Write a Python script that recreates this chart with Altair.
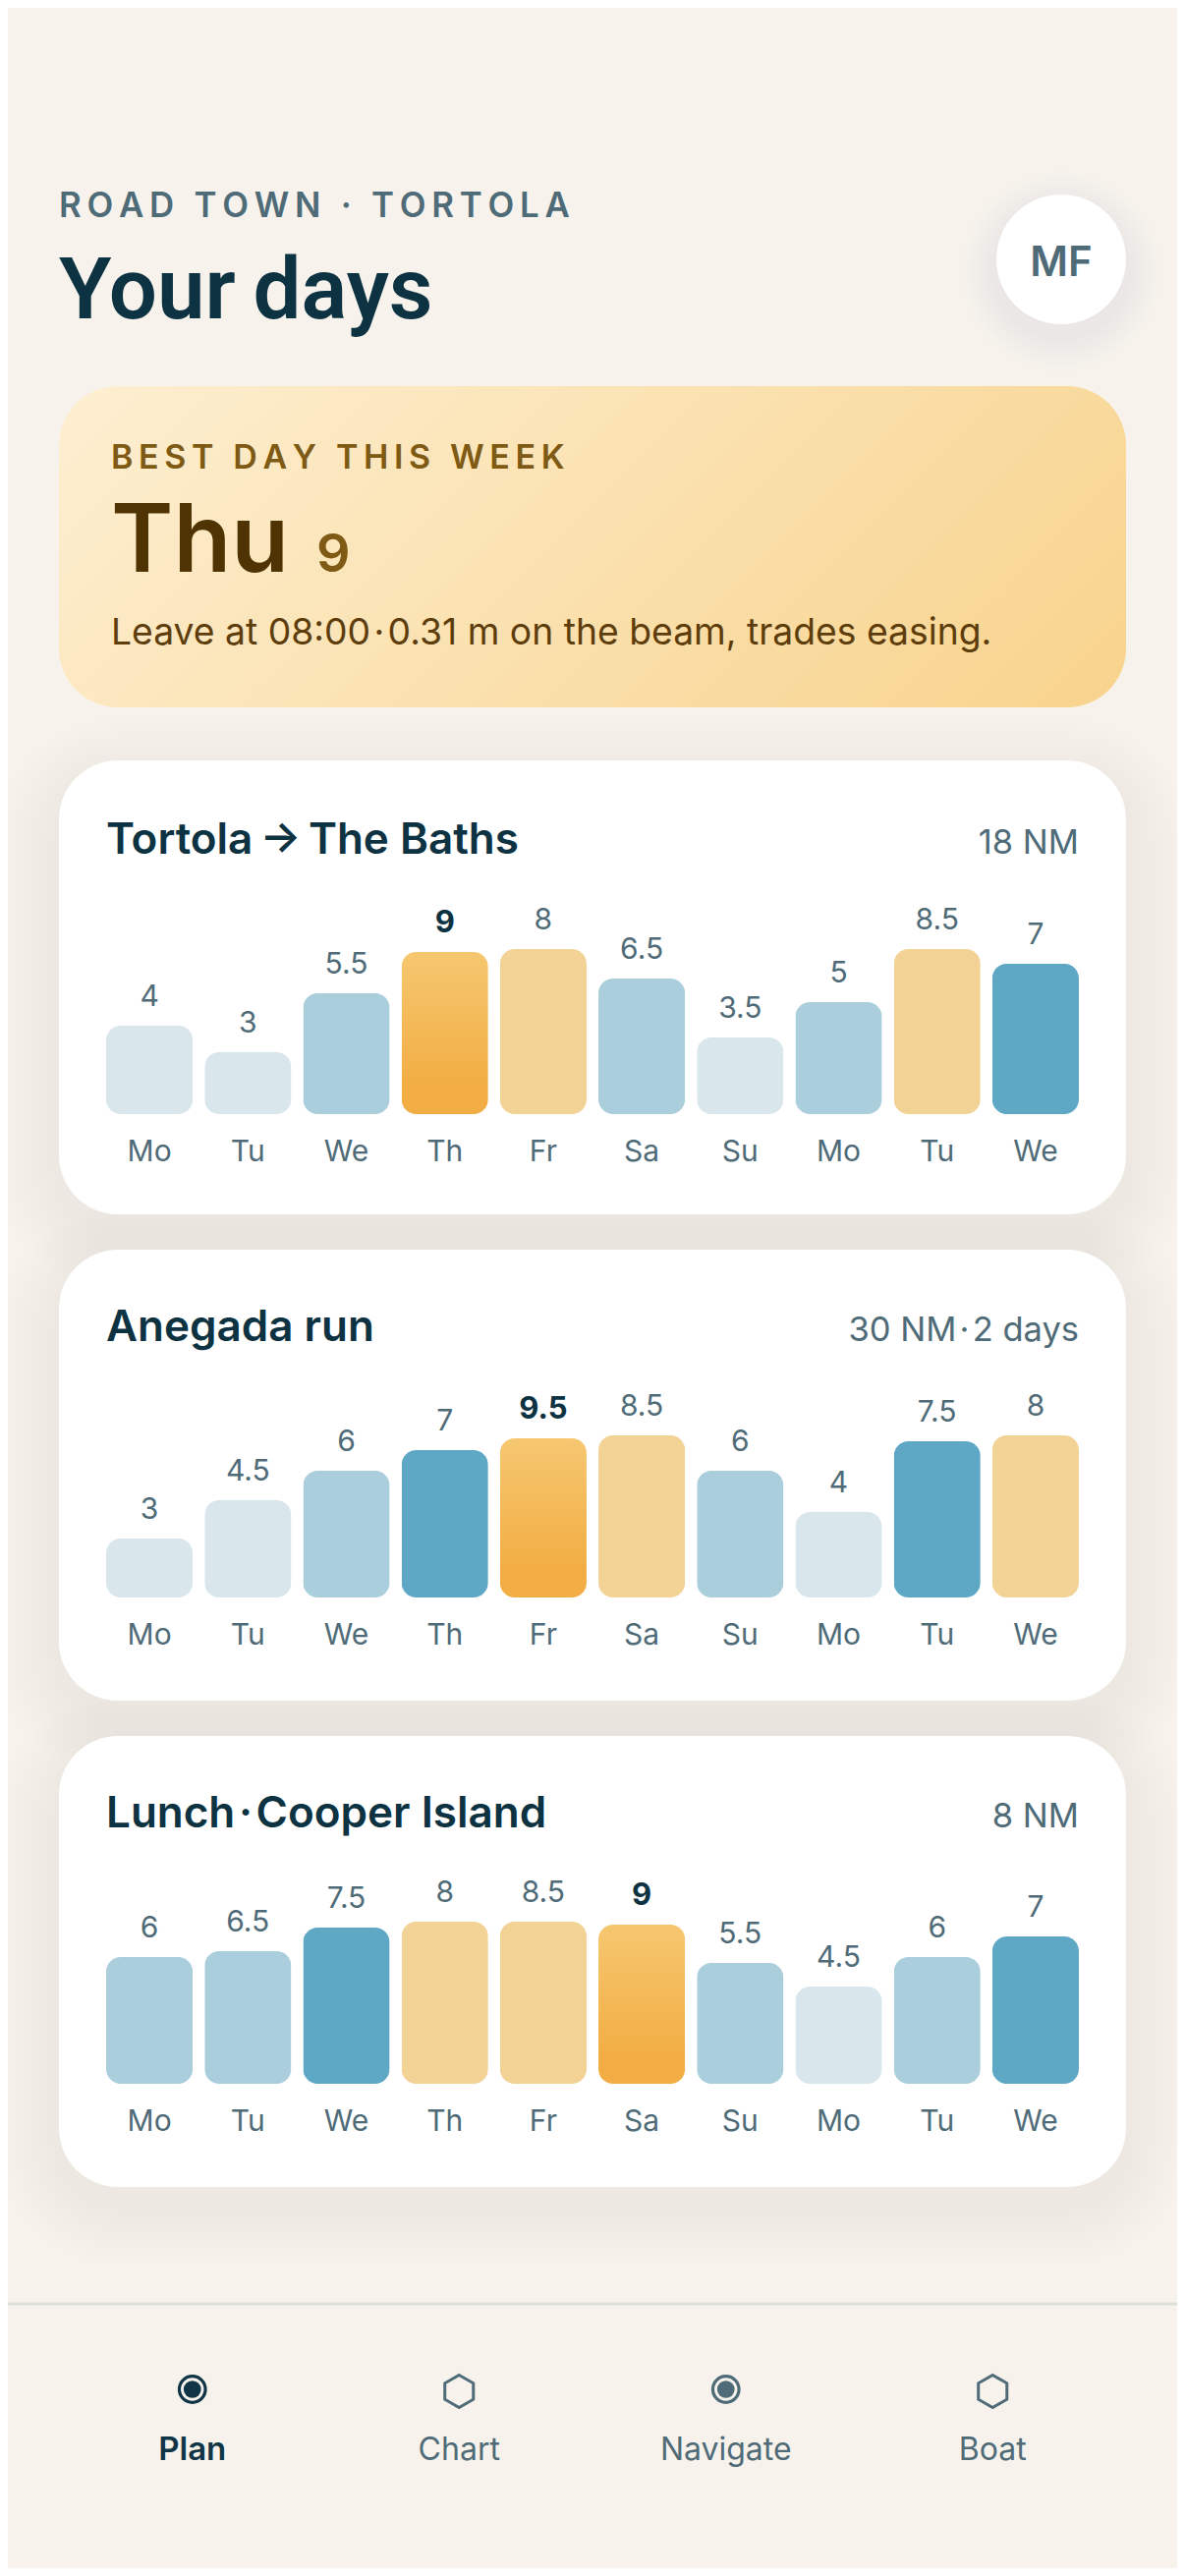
"""Your days: sailing day planner screen, one Altair layer stack."""

import altair as alt
import pandas as pd

# the page sets the chart 8px in from the window's edges: all layout numbers below are window pixels
PAGE_MARGIN = 8
WIDTH = 1206 - 2 * PAGE_MARGIN
HEIGHT = 2622 - 2 * PAGE_MARGIN
FONT = "Inter"

BG = "#F7F3EC"
INK = "#0D3242"
MUTED = "#4F6B78"
AMBER_TEXT = "#7E5A14"
AMBER_DARK = "#4F3303"
AMBER_BODY = "#5E3D0C"
SHADOW = "#0D3242"

HAIR = "\u200a"
THIN = "\u2009"

# header and hero text
eyebrow = "ROAD TOWN · TORTOLA"
page_title = "Your days"
avatar_text = "MF"
hero_eyebrow = "BEST DAY THIS WEEK"
hero_day = "Thu"
hero_score = "9"
hero_note = f"Leave at 08:00{HAIR}·{HAIR}0.31 m on the beam, trades easing."

# route cards
card_titles = [f"Tortola{THIN}→{THIN}The Baths", "Anegada run", f"Lunch{HAIR}·{HAIR}Cooper Island"]
card_meta = ["18 NM", f"30 NM{HAIR}·{HAIR}2 days", "8 NM"]
days = ["Mo", "Tu", "We", "Th", "Fr", "Sa", "Su", "Mo", "Tu", "We"]
slots = list(range(10))

baths_scores = [4, 3, 5.5, 9, 8, 6.5, 3.5, 5, 8.5, 7]
anegada_scores = [3, 4.5, 6, 7, 9.5, 8.5, 6, 4, 7.5, 8]
cooper_scores = [6, 6.5, 7.5, 8, 8.5, 9, 5.5, 4.5, 6, 7]
all_scores = [baths_scores, anegada_scores, cooper_scores]

# bar fill in percent of the track (not proportional to the score)
baths_fill = [42.9, 30, 58.6, 78.6, 80, 65.7, 37.1, 54.3, 80, 72.9]
anegada_fill = [28.6, 47.1, 61.4, 71.4, 77.1, 78.6, 61.4, 41.4, 75.7, 78.6]
cooper_fill = [61.4, 64.3, 75.7, 78.6, 78.6, 77.1, 58.6, 47.1, 61.4, 71.4]
all_fill = [baths_fill, anegada_fill, cooper_fill]

# bottom tabs
nav_labels = ["Plan", "Chart", "Navigate", "Boat"]
nav_icons = ["ring", "hex", "ring", "hex"]
nav_states = ["active", "idle", "idle", "idle"]

CARD_TOPS = [774, 1272, 1767]
CARD_BOTTOMS = [1236, 1731, 2226]
BAR_BASES = [1134, 1626, 2121]
TITLE_BASELINES = [869, 1365, 1860]
HEX_PATH = "M0,-1 L0.88,-0.5 L0.88,0.5 L0,1 L-0.88,0.5 L-0.88,-0.5 Z"

one_row = alt.Data(values=[{"n": 1}])


def px(v):
    """Window pixel to chart pixel."""
    return v - PAGE_MARGIN


def text_layer(name, label, x, y, size, color, weight=400, align="left", font=FONT):
    return alt.Chart(pd.DataFrame({"label": [label]})).mark_text(
        font=font, fontSize=size, fontWeight=weight, color=color,
        align=align, baseline="alphabetic",
    ).encode(
        x=alt.value(px(x)), y=alt.value(px(y)), text="label:N",
    ).properties(name=name)


def box_layer(name, left, right, top, bottom, radius, color, opacity=1):
    return alt.Chart(one_row).mark_rect(cornerRadius=radius, color=color, opacity=opacity).encode(
        x=alt.value(px(left)), x2=alt.value(px(right)), y=alt.value(px(top)), y2=alt.value(px(bottom)),
    ).properties(name=name)


def shadow_layers(name, left, right, top, bottom, radius, drop, spread, steps, opacity):
    """Stack of faint growing boxes standing in for a soft box-shadow."""
    layers = []
    for k in range(steps):
        grow = spread * (k + 1) / steps
        layers.append(box_layer(
            f"{name}_{k}", left - grow, right + grow, top + drop - grow, bottom + drop + grow,
            radius + grow, SHADOW, opacity,
        ))
    return layers


def get_card(i):
    rows = pd.DataFrame({
        "slot": slots,
        "day": days,
        "score": all_scores[i],
        "fill": all_fill[i],
        "label": [f"{v:g}" for v in all_scores[i]],
    })
    best = rows[rows["score"] == rows["score"].max()]
    rest = rows[rows["score"] != rows["score"].max()]
    base = BAR_BASES[i]

    x = alt.X("slot:O", axis=None, scale=alt.Scale(
        type="band", domain=slots, range=[px(108), px(1098)], paddingInner=0.12, paddingOuter=0, round=False))
    y = alt.Y("fill:Q", axis=None, scale=alt.Scale(
        domain=[0, 100], range=[px(base), px(base - 210)], nice=False))

    bars = alt.Chart(rest).mark_bar(cornerRadius=15).encode(
        x=x, y=y,
        color=alt.Color("score:Q", legend=None, scale=alt.Scale(
            type="threshold", domain=[5, 7, 8], range=["#D9E6EC", "#AACEDC", "#5FA8C5", "#F3D296"])),
    ).properties(name=f"bars_{i}")

    best_bar = alt.Chart(best).mark_bar(cornerRadius=15, color=alt.Gradient(
        gradient="linear",
        stops=[
            alt.GradientStop(color="#F6C770", offset=0),
            alt.GradientStop(color="#F2AE45", offset=0.8),
            alt.GradientStop(color="#F2AE45", offset=1),
        ],
        x1=0, x2=0, y1=0, y2=1,
    )).encode(x=x, y=y).properties(name=f"best_bar_{i}")

    values = alt.Chart(rest).mark_text(
        font=FONT, fontSize=30, color=MUTED, baseline="alphabetic", dy=-20,
    ).encode(x=x, y=y, text="label:N").properties(name=f"values_{i}")

    best_value = alt.Chart(best).mark_text(
        font=FONT, fontSize=31, fontWeight=700, color=INK, baseline="alphabetic", dy=-20,
    ).encode(x=x, y=y, text="label:N").properties(name=f"best_value_{i}")

    day_labels = alt.Chart(rows).mark_text(
        font=FONT, fontSize=30, color=MUTED, baseline="alphabetic",
    ).encode(x=x, y=alt.value(px(base + 48)), text="day:N").properties(name=f"days_{i}")

    return alt.layer(
        box_layer(f"card_bg_{i}", 60, 1146, CARD_TOPS[i], CARD_BOTTOMS[i], 60, "#FFFFFF"),
        text_layer(f"card_title_{i}", card_titles[i], 108, TITLE_BASELINES[i], 44, INK, 600),
        text_layer(f"card_meta_{i}", card_meta[i], 1098, TITLE_BASELINES[i], 34.5, MUTED, 400, "right"),
        bars, best_bar, values, best_value, day_labels,
    )


def get_nav():
    rows = pd.DataFrame({"tab": nav_labels, "icon": nav_icons, "state": nav_states})
    x = alt.X("tab:N", axis=None, sort=nav_labels, scale=alt.Scale(
        type="band", domain=nav_labels, range=[px(60), px(1146)], paddingInner=0, paddingOuter=0, round=False))
    color = alt.Color("state:N", legend=None, scale=alt.Scale(
        domain=["active", "idle"], range=["#0F3546", MUTED]))

    rings = rows[rows["icon"] == "ring"]
    hexes = rows[rows["icon"] == "hex"]

    ring = alt.Chart(rings).mark_point(size=707, strokeWidth=3.2, opacity=1).encode(
        x=x, y=alt.value(px(2432)), color=color).properties(name="nav_ring")
    dot = alt.Chart(rings).mark_point(size=314, filled=True, opacity=1).encode(
        x=x, y=alt.value(px(2432)), color=color).properties(name="nav_dot")
    hexagon = alt.Chart(hexes).mark_point(shape=HEX_PATH, size=1089, strokeWidth=3, opacity=1).encode(
        x=x, y=alt.value(px(2434)), color=color).properties(name="nav_hex")

    labels_idle = alt.Chart(rows[rows["state"] == "idle"]).mark_text(
        font=FONT, fontSize=32, color=MUTED, baseline="alphabetic",
    ).encode(x=x, y=alt.value(px(2504)), text="tab:N").properties(name="nav_idle")
    labels_active = alt.Chart(rows[rows["state"] == "active"]).mark_text(
        font=FONT, fontSize=33, fontWeight=600, color="#0F3546", baseline="alphabetic",
    ).encode(x=x, y=alt.value(px(2504)), text="tab:N").properties(name="nav_active")

    rule = alt.Chart(one_row).mark_rule(color="#DEDFDA", strokeWidth=3).encode(
        x=alt.value(0), x2=alt.value(WIDTH), y=alt.value(px(2345))).properties(name="nav_rule")

    return alt.layer(rule, ring, dot, hexagon, labels_idle, labels_active)


hero_fill = alt.Gradient(
    gradient="linear",
    stops=[alt.GradientStop(color="#FDEFD2", offset=0), alt.GradientStop(color="#F8D38C", offset=1)],
    x1=-0.0965, y1=0.32, x2=1.0965, y2=0.68,
)

shadows = []
for i in range(3):
    shadows += shadow_layers(f"card_shadow_{i}", 60, 1146, CARD_TOPS[i], CARD_BOTTOMS[i], 60, 18, 60, 10, 0.0035)
shadows += shadow_layers("avatar_shadow", 1014, 1146, 198, 330, 66, 12, 36, 6, 0.007)

chart = alt.layer(
    *shadows,
    text_layer("eyebrow_top", THIN.join(eyebrow), 60, 221, 34.8, MUTED, 600),
    text_layer("page_title", f"Your{THIN}days", 60, 324, 87, INK, 600, font="Roboto"),
    box_layer("avatar_bg", 1014, 1146, 198, 330, 66, "#FFFFFF"),
    text_layer("avatar_text", avatar_text, 1080, 281, 42, MUTED, 600, "center"),
    box_layer("hero_bg", 60, 1146, 393, 720, 60, hero_fill),
    text_layer("eyebrow_hero", THIN.join(hero_eyebrow), 113, 477, 34, AMBER_TEXT, 600),
    text_layer("hero_big", hero_day, 113, 582, 96, AMBER_DARK, 600),
    text_layer("hero_score", hero_score, 322, 582, 54, AMBER_TEXT, 600),
    text_layer("hero_note", hero_note, 113, 656, 37.3, AMBER_BODY, 400),
    get_card(0),
    get_card(1),
    get_card(2),
    get_nav(),
).resolve_scale(
    x="independent", y="independent", color="independent",
).properties(
    width=WIDTH,
    height=HEIGHT,
    padding=0,
    background=BG,
    autosize=alt.AutoSizeParams(type="none", contains="padding"),
).configure_view(strokeWidth=0)

chart.save("out.html", embed_options={"renderer": "svg", "actions": False})
